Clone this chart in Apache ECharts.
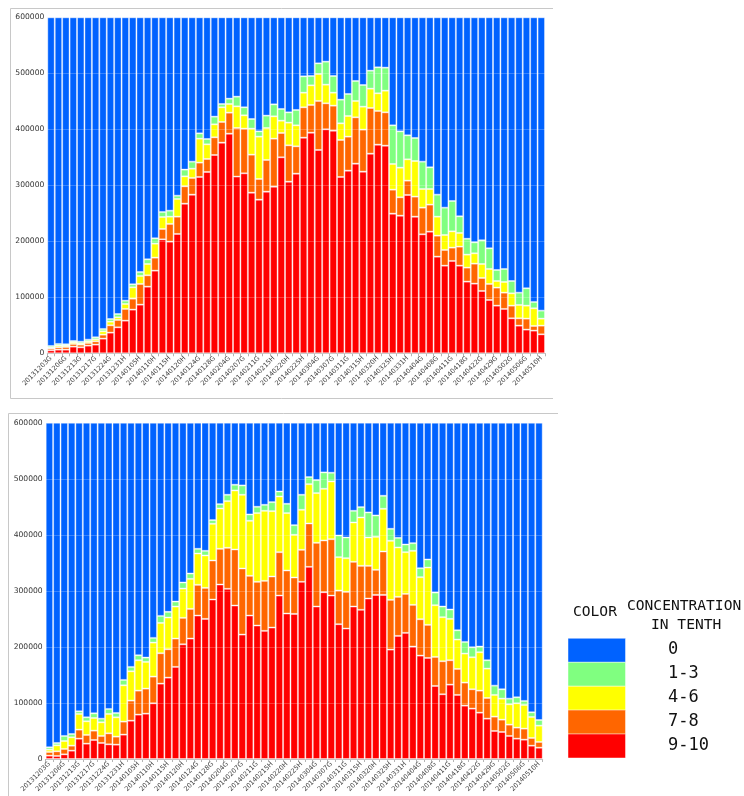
<!DOCTYPE html>
<html><head><meta charset="utf-8">
<script src="https://cdn.jsdelivr.net/npm/echarts@6/dist/echarts.min.js"></script>
<style>html,body{margin:0;padding:0;background:#fff}#c{width:744px;height:796px}</style>
</head><body><div id="c"></div>
<script>
// Tick labels shown on the category axis (every second observation is labelled)
const tickLabels = ['20131203G','20131206G','20131213G','20131217G','20131224G','20131231H','20140105H','20140110H','20140115H','20140120H','20140124G','20140128G','20140204G','20140207G','20140211G','20140215H','20140220H','20140225H','20140304G','20140307G','20140311G','20140315H','20140320H','20140325H','20140331H','20140404G','20140408G','20140411G','20140418G','20140422G','20140429G','20140502G','20140506G','20140510H'];
// categories: each labelled observation followed by one unlabelled observation
const categories = [];
tickLabels.forEach((t, i) => { categories.push(t); if (i < tickLabels.length - 1) categories.push(t + '+'); });

const concentrations = ['0', '1-3', '4-6', '7-8', '9-10'];
const colors = ['#0062ff', '#80ff80', '#ffff00', '#ff6600', '#ff0000'];

// Upper chart
const topRed = [5400,6500,6500,11900,10700,13700,15500,26200,36900,46400,58300,78000,86900,119000,147600,203500,199400,213100,267200,283300,314900,323800,354100,376200,392200,315500,321400,286900,274400,288700,297600,350000,306500,320800,385100,394000,363100,400000,397600,314900,326200,338700,324400,356500,372600,370800,249400,245800,282700,244000,212500,217200,172600,156500,164900,156500,128000,124400,111300,95200,85100,79200,62500,49400,42300,40500,33900];
const topOrange = [3500,4200,4800,4800,4800,4800,5900,7100,13100,13100,20900,19600,36900,20300,23200,18500,31600,30900,31000,29800,25600,23200,31600,36900,37500,86900,79800,67800,36900,56500,85700,43400,64900,48800,54200,49400,87500,46400,44600,66000,60700,82700,75000,81600,60100,59500,42800,32800,25600,35800,47600,48300,37500,28000,23800,34000,25000,35700,23200,28600,32200,29100,22600,13100,19600,8300,15500];
const topYellow = [1200,3000,2400,2900,2400,2900,3600,6000,6500,4800,8900,20300,14300,20200,25000,21400,13000,31600,17800,16600,42800,26200,23200,26200,15500,38600,23800,46500,75600,57200,39900,22000,40500,37500,26100,35100,48200,33300,23200,29800,36900,29200,41000,34500,31600,38700,45900,52900,38100,63600,33300,27900,33900,26800,29100,24400,23200,18500,25000,26800,11800,19100,22000,23800,23200,31600,12500];
const topGreen = [3000,3000,2400,2400,2900,3000,3600,4200,4800,5900,5900,5300,7100,8300,9500,9000,10700,5900,12000,12500,9500,9500,13700,5900,9500,17300,14300,17200,9500,22000,21400,20900,18400,27400,29200,16700,19000,41100,29800,42200,39300,35700,38700,32100,46400,41100,69000,64900,42900,41100,48800,38700,39300,48800,54200,29700,28300,19600,42300,36900,19700,23200,22000,22000,31000,11300,14300];
const topBlue = [586900,583300,583900,578000,579200,575600,571400,556500,538700,529800,506000,476800,454800,432200,394700,347600,345300,318500,272000,257800,207200,217300,177400,154800,145300,141700,160700,181600,203600,175600,155400,163700,169700,165500,105400,104800,82200,79200,104800,147100,136900,113700,120900,95300,89300,89900,192900,203600,210700,215500,257800,267900,316700,339900,328000,355400,395500,401800,398200,412500,451200,449400,470900,491700,483900,508300,523800];

// Lower chart
const botRed = [6000,5400,8300,14900,36300,27400,33900,28600,26200,25600,43500,68400,79200,80900,99400,134500,145200,164300,204700,214900,255900,250000,284500,311300,303600,273800,222000,255900,238100,228600,234500,291600,259500,258900,316100,342800,272000,297600,291600,240500,232700,272000,266100,286300,292800,292800,195200,219600,225000,200600,184500,180300,130300,115500,132700,114300,95200,89900,82700,72000,50000,48200,41100,36300,34500,23800,20200];
const botOrange = [6500,8300,9600,8900,16100,15500,16700,12500,19600,14300,23200,35800,42800,44700,47600,54200,50600,50600,47100,52900,54800,55300,69600,63700,73200,100000,117900,70900,78000,89200,91100,77400,76800,64900,57100,77400,113700,92300,100600,60100,65500,79800,78500,58300,44700,77400,88700,69700,69600,74400,64900,59000,51800,58900,43500,46400,41100,34500,39300,36900,25600,22000,20200,19700,19700,13700,10200];
const botYellow = [4200,10700,14200,14900,28000,24400,22600,24400,34600,34500,64800,52300,54200,47600,60700,54100,56600,57100,52300,53600,55900,57800,65500,72000,83300,105300,131500,98200,122600,125000,116600,99400,102400,76200,71400,70200,88700,92200,103000,59500,60100,70200,86300,50600,58900,76200,105400,88100,74400,96400,75000,102300,92300,78600,73800,52400,51800,57100,68500,52400,38700,37500,36300,43400,42200,37500,29100];
const botGreen = [4100,4200,9000,5900,4700,7100,8300,6500,8900,7700,9600,7800,8900,7700,8400,12500,10100,8900,10800,9500,8400,8300,6600,7700,11300,10200,16700,11300,11300,10700,16100,8900,16600,17200,26800,12600,23200,29200,15500,38700,36900,20800,18500,44700,38100,23200,21400,17200,13700,13700,16100,14400,22600,19000,16700,16600,20800,17900,10100,14900,16600,16700,10100,10700,7200,8300,10100];
const botBlue = [579200,571400,558900,555400,514900,525600,518500,528000,510700,517900,458900,435700,414900,419100,383900,344700,337500,319100,285100,269100,225000,228600,173800,145300,128600,110700,111900,163700,150000,146500,141700,122700,144700,182800,128600,97000,102400,88700,89300,201200,204800,157200,150600,160100,165500,130400,189300,205400,217300,214900,259500,244000,303000,328000,333300,370300,391100,400600,399400,423800,469100,475600,492300,489900,496400,516700,530400];

const yTicks = {min: 0, max: 600000, interval: 100000};

const chart = echarts.init(document.getElementById('c'), null, {renderer: 'canvas'});
const labelFont = 'DejaVu Sans, Verdana, sans-serif';

function xAxisFor(gi) {
  return {
    type: 'category', gridIndex: gi, data: categories, boundaryGap: true,
    axisLine: {lineStyle: {color: '#b4b4b4', width: 1}},
    axisTick: {show: true, interval: 0, length: 3, lineStyle: {color: '#b4b4b4'}},
    axisLabel: {interval: 1, rotate: 45, fontSize: 6.6, color: '#444', margin: 4, fontFamily: labelFont,
      formatter: v => (v.endsWith('+') ? '' : v)}
  };
}
function yAxisFor(gi) {
  return {
    type: 'value', gridIndex: gi, min: yTicks.min, max: yTicks.max, interval: yTicks.interval, z: 10,
    axisLine: {show: false}, axisTick: {show: false},
    axisLabel: {fontSize: 7.6, color: '#333', margin: 3, fontFamily: labelFont, formatter: v => String(v)},
    splitLine: {show: true, lineStyle: {color: 'rgba(255,255,255,0.22)', width: 1}}
  };
}
function seriesFor(gi, arrs) {
  // stacking order bottom to top: 9-10, 7-8, 4-6, 1-3, 0
  const order = [4, 3, 2, 1, 0];
  return order.map((ci, k) => ({
    type: 'bar', name: concentrations[ci], stack: 's' + gi, xAxisIndex: gi, yAxisIndex: gi,
    data: arrs[k], barCategoryGap: '0%',
    itemStyle: {color: colors[ci], borderColor: 'rgba(255,255,255,0.38)', borderWidth: 1},
    emphasis: {disabled: true}, animation: false
  }));
}

const frame = '#c8c8c8';
const graphics = [
  {type: 'line', shape: {x1: 10.5, y1: 8.5, x2: 553, y2: 8.5}, style: {stroke: frame, lineWidth: 1}},
  {type: 'line', shape: {x1: 10.5, y1: 8.5, x2: 10.5, y2: 398.5}, style: {stroke: frame, lineWidth: 1}},
  {type: 'line', shape: {x1: 10.5, y1: 398.5, x2: 553, y2: 398.5}, style: {stroke: frame, lineWidth: 1}},
  {type: 'line', shape: {x1: 8.5, y1: 413.5, x2: 558, y2: 413.5}, style: {stroke: frame, lineWidth: 1}},
  {type: 'line', shape: {x1: 8.5, y1: 413.5, x2: 8.5, y2: 796}, style: {stroke: frame, lineWidth: 1}},
  {type: 'text', left: 573, top: 605, style: {text: 'COLOR', font: '14.6px "DejaVu Sans Mono", monospace', fill: '#111'}},
  {type: 'text', left: 627, top: 599, style: {text: 'CONCENTRATION', font: '14.6px "DejaVu Sans Mono", monospace', fill: '#111'}},
  {type: 'text', left: 651, top: 618, style: {text: 'IN TENTH', font: '14.6px "DejaVu Sans Mono", monospace', fill: '#111'}}
];
const rowTop = [638.3, 662.3, 686.2, 710.1, 734];
concentrations.forEach((c, i) => {
  graphics.push({type: 'rect', shape: {x: 568, y: rowTop[i], width: 57.5, height: 24},
    style: {fill: colors[i], stroke: 'rgba(255,255,255,0.45)', lineWidth: 1}});
  graphics.push({type: 'text', left: 668, top: rowTop[i] + 3, style: {text: c, font: '17px "DejaVu Sans Mono", monospace', fill: '#111'}});
});

chart.setOption({
  animation: false,
  backgroundColor: '#fff',
  grid: [
    {left: 47.3, top: 17.3, width: 497.7, height: 336, containLabel: false},
    {left: 45.7, top: 422.7, width: 497, height: 336.3, containLabel: false}
  ],
  xAxis: [xAxisFor(0), xAxisFor(1)],
  yAxis: [yAxisFor(0), yAxisFor(1)],
  series: [
    ...seriesFor(0, [topRed, topOrange, topYellow, topGreen, topBlue]),
    ...seriesFor(1, [botRed, botOrange, botYellow, botGreen, botBlue])
  ],
  graphic: graphics
});
</script></body></html>
